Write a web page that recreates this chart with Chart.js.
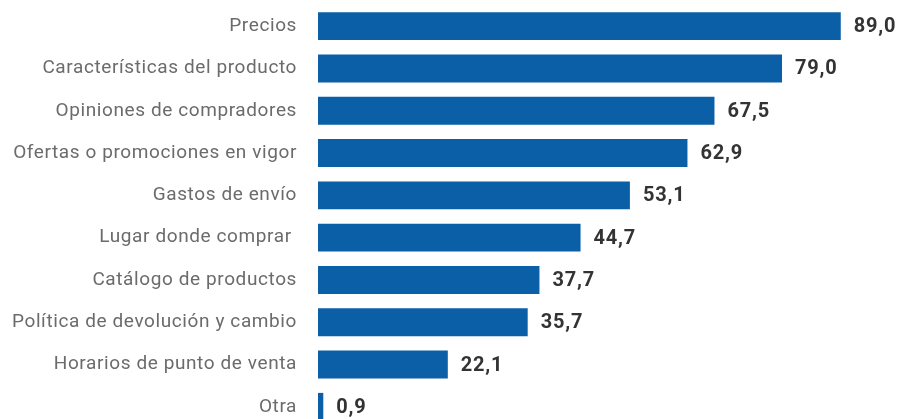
<!DOCTYPE html>
<html>
<head>
<meta charset="utf-8">
<script src="https://cdn.jsdelivr.net/npm/chart.js@4"></script>
<style>
  html, body { margin: 0; padding: 0; background: #fff; overflow: hidden; }
  canvas { display: block; }
</style>
</head>
<body>
<canvas id="chart" width="898" height="434"></canvas>
<script>
const categories = [
    "Precios",
    "Características del producto",
    "Opiniones de compradores",
    "Ofertas o promociones en vigor",
    "Gastos de envío",
    "Lugar donde comprar ",
    "Catálogo de productos",
    "Política de devolución y cambio",
    "Horarios de punto de venta",
    "Otra"
];
const values = [89.0, 79.0, 67.5, 62.9, 53.1, 44.7, 37.7, 35.7, 22.1, 0.9];

const BAR_COLOR = "#0a5fa6";
const AXIS_LEFT = 318;

// a bit of tracking on the category names
const tracking = {
    id: "tracking",
    beforeDraw(chart) { chart.ctx.letterSpacing = "0.6px"; },
    afterDraw(chart) { chart.ctx.letterSpacing = "0px"; }
};

// writes "89,0" style numbers right after each bar
const valueLabels = {
    id: "valueLabels",
    afterDatasetsDraw(chart) {
        const ctx = chart.ctx;
        const meta = chart.getDatasetMeta(0);
        ctx.save();
        ctx.font = "bold 20px Roboto";
        ctx.letterSpacing = "0.8px";
        ctx.fillStyle = "#333333";
        ctx.textAlign = "left";
        ctx.textBaseline = "middle";
        meta.data.forEach((bar, i) => {
            const txt = values[i].toFixed(1).replace(".", ",");
            ctx.fillText(txt, bar.x + 13, bar.y + 1);
        });
        ctx.restore();
    }
};

new Chart(document.getElementById("chart"), {
    type: "bar",
    data: {
        labels: categories,
        datasets: [{
            data: values,
            backgroundColor: BAR_COLOR,
            borderWidth: 0,
            barPercentage: 0.66,
            categoryPercentage: 1.0
        }]
    },
    options: {
        indexAxis: "y",
        responsive: false,
        animation: false,
        layout: { padding: { top: 5, bottom: 6, left: 0, right: 22 } },
        plugins: { legend: { display: false }, tooltip: { enabled: false } },
        scales: {
            x: {
                min: 0,
                max: 95,
                display: false
            },
            y: {
                grid: { display: false, drawTicks: false },
                border: { display: false },
                ticks: {
                    color: "#6b6b6b",
                    font: { family: "Roboto", size: 19 },
                    padding: 21
                },
                afterFit(scale) {
                    scale.width = AXIS_LEFT;
                    // labels sit beside the bars, so no extra room above/below
                    scale.paddingTop = 0;
                    scale.paddingBottom = 0;
                }
            }
        }
    },
    plugins: [tracking, valueLabels]
});
</script>
</body>
</html>
